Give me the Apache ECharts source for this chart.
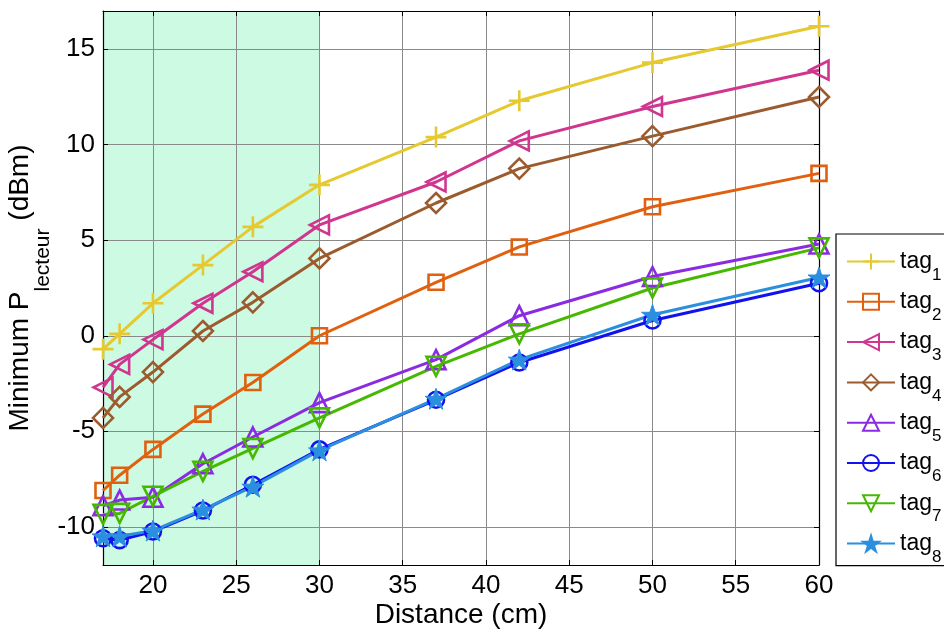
<!DOCTYPE html>
<html>
<head>
<meta charset="utf-8">
<script src="https://cdn.jsdelivr.net/npm/echarts@6/dist/echarts.min.js"></script>
<style>
html,body{margin:0;padding:0;background:#fff;}
#chart{width:944px;height:630px;}
</style>
</head>
<body>
<div id="chart"></div>
<script>
// ---- data ----
const distances = [17, 18, 20, 23, 26, 30, 37, 42, 50, 60];
const tagNames = ['tag1', 'tag2', 'tag3', 'tag4', 'tag5', 'tag6', 'tag7', 'tag8'];
const tag1 = [-0.7, 0.1, 1.7, 3.7, 5.7, 7.9, 10.4, 12.3, 14.3, 16.2];
const tag2 = [-8.1, -7.3, -5.95, -4.1, -2.45, 0.0, 2.8, 4.65, 6.75, 8.5];
const tag3 = [-2.7, -1.5, -0.2, 1.7, 3.35, 5.8, 8.05, 10.2, 12.0, 13.9];
const tag4 = [-4.3, -3.2, -1.9, 0.25, 1.75, 4.05, 6.95, 8.75, 10.45, 12.5];
const tag5 = [-8.9, -8.6, -8.45, -6.7, -5.3, -3.5, -1.25, 1.05, 3.1, 4.8];
const tag6 = [-10.6, -10.7, -10.25, -9.15, -7.8, -5.95, -3.35, -1.4, 0.8, 2.75];
const tag7 = [-9.35, -9.3, -8.4, -7.1, -5.9, -4.3, -1.6, 0.1, 2.5, 4.6];
const tag8 = [-10.5, -10.5, -10.2, -9.1, -7.9, -6.0, -3.3, -1.25, 1.1, 3.05];
const zoneCP = [17, 30];
const xRange = [17, 60];
const yRange = [-12, 17];

// ---- styling ----
const colors = ['#E6C92E', '#E0600F', '#D0358F', '#9B5B2E', '#8A2BE2', '#1212F0', '#46B800', '#2B8FE0'];
const PLUS = 'path://M10,0 L10,20 M0,10 L20,10';
const TRI_LEFT = 'path://M0,5 L10,0 L10,10 Z';
const DIAMOND = 'path://M5,0 L10,5 L5,10 L0,5 Z';
const TRI_UP = 'path://M5,0 L10,10 L0,10 Z';
const TRI_DOWN = 'path://M0,0 L10,0 L5,10 Z';
const SQUARE = 'path://M0,0 L10,0 L10,10 L0,10 Z';
const STAR = 'path://M10,0 L12.234,6.926 L19.511,6.910 L13.614,11.174 L15.878,18.090 L10,13.8 L4.122,18.090 L6.386,11.174 L0.489,6.910 L7.766,6.926 Z';
const symbols = [PLUS, SQUARE, TRI_LEFT, DIAMOND, TRI_UP, 'circle', TRI_DOWN, STAR];
const sizes = [21, 15, 19, 20, 19, 16, 19, 22];
const values = [tag1, tag2, tag3, tag4, tag5, tag6, tag7, tag8];

const chart = echarts.init(document.getElementById('chart'), null, {renderer: 'canvas'});

const series = [{
  name: 'zone',
  type: 'line',
  data: [],
  z: 0,
  silent: true,
  markArea: {
    silent: true,
    z: 0,
    itemStyle: {color: '#CDFAE3', opacity: 1},
    data: [[{xAxis: zoneCP[0]}, {xAxis: zoneCP[1]}]]
  }
}];
tagNames.forEach((n, i) => {
  const filled = i === 7;
  series.push({
    name: n,
    type: 'line',
    z: 2,
    clip: false,
    data: distances.map((d, k) => [d, values[i][k]]),
    symbol: symbols[i],
    symbolSize: sizes[i],
    symbolKeepAspect: true,
    showAllSymbol: true,
    lineStyle: {color: colors[i], width: 3},
    itemStyle: {
      color: filled ? colors[i] : 'transparent',
      borderColor: colors[i],
      borderWidth: filled ? 1 : 2.6
    },
    emphasis: {disabled: true}
  });
});

const tickFont = {fontFamily: 'Liberation Sans', fontSize: 26, color: '#000'};
const fmt5 = v => (Math.abs(v % 5) < 1e-9 ? String(v) : '');

const option = {
  animation: false,
  backgroundColor: '#fff',
  grid: {left: 103, right: 125, top: 11, bottom: 65, containLabel: false, outerBoundsMode: 'none'},
  xAxis: [{
    type: 'value', min: xRange[0], max: xRange[1], splitNumber: 9, z: 1,
    position: 'bottom',
    axisLine: {show: true, onZero: false, lineStyle: {color: '#000', width: 1.2}},
    axisTick: {show: true, inside: true, length: 5, lineStyle: {color: '#000'}},
    axisLabel: Object.assign({margin: 8, formatter: fmt5}, tickFont),
    splitLine: {show: true, lineStyle: {color: '#8a8a8a', width: 1}},
    name: 'Distance (cm)', nameLocation: 'middle', nameGap: 36, nameMoveOverlap: false,
    nameTextStyle: {fontFamily: 'Liberation Sans', fontSize: 28, color: '#000'}
  }, {
    type: 'value', min: xRange[0], max: xRange[1], splitNumber: 9, z: 1,
    position: 'top',
    axisLine: {show: true, onZero: false, lineStyle: {color: '#000', width: 1.2}},
    axisTick: {show: true, inside: true, length: 5, lineStyle: {color: '#000'}},
    axisLabel: {show: false},
    splitLine: {show: false}
  }],
  yAxis: [{
    type: 'value', min: yRange[0], max: yRange[1], splitNumber: 5, z: 1,
    position: 'left',
    axisLine: {show: true, onZero: false, lineStyle: {color: '#000', width: 1.2}},
    axisTick: {show: true, inside: true, length: 5, lineStyle: {color: '#000'}},
    axisLabel: Object.assign({margin: 8, formatter: fmt5}, tickFont),
    splitLine: {show: true, lineStyle: {color: '#8a8a8a', width: 1}},
    name: '{m|Minimum P}{s|lecteur}{m| (dBm)}',
    nameLocation: 'middle', nameGap: 49, nameMoveOverlap: false,
    nameTextStyle: {
      fontFamily: 'Liberation Sans', color: '#000',
      rich: {
        m: {fontFamily: 'Liberation Sans', fontSize: 28, lineHeight: 48, verticalAlign: 'top', color: '#000'},
        s: {fontFamily: 'Liberation Sans', fontSize: 21, lineHeight: 21, verticalAlign: 'bottom', color: '#000'}
      }
    }
  }, {
    type: 'value', min: yRange[0], max: yRange[1], splitNumber: 5, z: 1,
    position: 'right',
    axisLine: {show: true, onZero: false, lineStyle: {color: '#000', width: 1.2}},
    axisTick: {show: true, inside: true, length: 5, lineStyle: {color: '#000'}},
    axisLabel: {show: false},
    splitLine: {show: false}
  }],
  legend: {
    orient: 'vertical',
    left: 836, top: 234,
    padding: [16, 60, 0, 10],
    itemGap: 6.8,
    itemWidth: 48, itemHeight: 20,
    backgroundColor: '#fff',
    borderColor: '#000', borderWidth: 1.2, borderRadius: 0,
    data: tagNames,
    selectedMode: false,
    formatter: n => '{a|tag}{b|' + n.slice(3) + '}',
    textStyle: {
      color: '#000', fontFamily: 'Liberation Sans',
      rich: {
        a: {fontFamily: 'Liberation Sans', fontSize: 23, lineHeight: 44, verticalAlign: 'middle', color: '#000'},
        b: {fontFamily: 'Liberation Sans', fontSize: 17, lineHeight: 17, verticalAlign: 'bottom', color: '#000'}
      }
    }
  },
  graphic: [{
    type: 'group', left: 116, top: 74, z: 100,
    children: [{
      type: 'rect', shape: {x: 0, y: 0, width: 182, height: 40},
      style: {fill: '#fff', stroke: '#333', lineWidth: 1}
    }, {
      type: 'text', x: 91, y: 21,
      style: {text: 'Zone CP', fontFamily: 'Liberation Sans', fontSize: 26, fill: '#000', align: 'center', verticalAlign: 'middle'}
    }]
  }],
  series: series
};
chart.setOption(option);
</script>
</body>
</html>
